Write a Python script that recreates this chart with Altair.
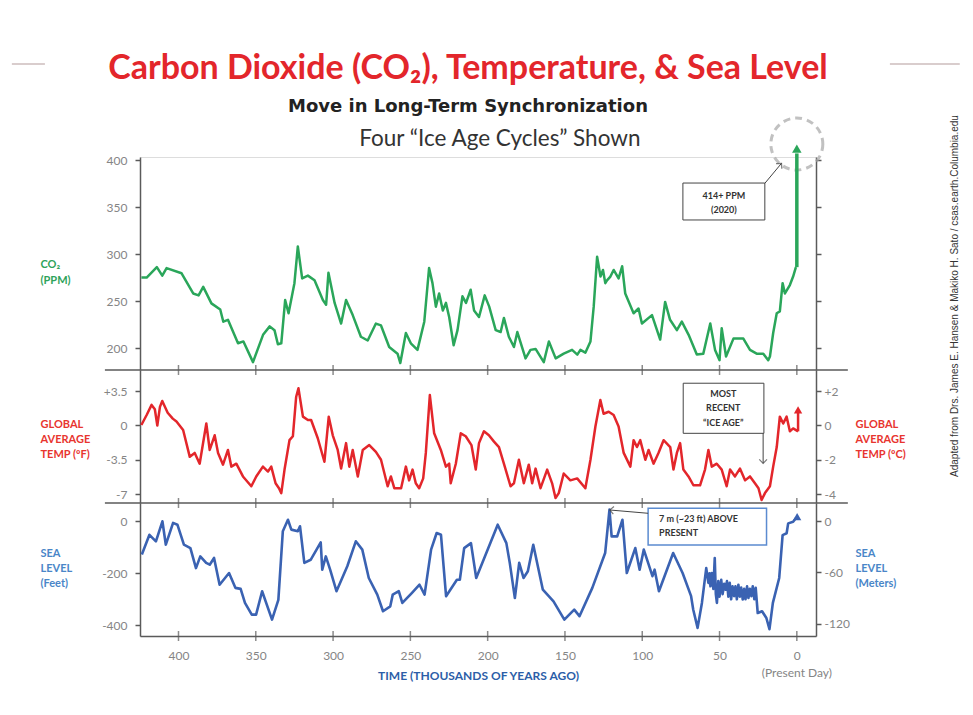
import altair as alt
import pandas as pd

# ---------------- data ----------------
co2_kyr = [424, 420.6, 414, 410.5, 407.7, 398, 390.5, 387, 384, 378.7,
           373, 371, 368, 361.5, 358, 351.8, 345.3, 341, 337.9, 335.7,
           333.5, 331, 328.8, 325, 322.8, 320, 316.3, 312, 306.6, 304.5,
           303, 299, 294.8, 291.6, 287.3, 282, 277.6, 272.3, 269, 263.7,
           258.3, 256.5, 252.9, 249.7, 245.4, 241, 237.9, 235.7, 233.5, 231.4,
           229, 227, 224.9, 222, 219.5, 216.3, 214, 211, 208.8, 205.6,
           201.9, 199, 194.8, 191.6, 189.5, 186.3, 183, 180.8, 175.5, 172.3,
           169, 163.7, 160.4, 156, 150.8, 145.4, 142, 140, 136.8, 133.5,
           131.4, 129.2, 127, 125.4, 123.9, 122.8, 120.6, 118.5, 115.3, 113,
           111, 105.6, 102.4, 100.2, 93.7, 88.4, 85.2, 82, 77.6, 74.4,
           70, 64.7, 60.5, 56, 52.9, 50, 48.6, 45.8, 41, 34.6,
           30.3, 26, 21.7, 18.5, 17.4, 15.3, 13, 11, 9.2, 7.7,
           4.5, 2.4, 0.6]
co2_ppm = [275, 275, 286, 277, 285, 279.5, 258, 256, 265, 247.5,
           241, 228, 230, 205, 207, 185, 214, 223, 219, 204,
           205, 251, 237, 269, 308, 274, 277, 272, 251, 246,
           280, 248, 226, 251, 235, 212, 208, 226, 224, 201,
           194, 184, 216, 205, 198, 228, 285, 269, 244, 258,
           240, 248, 233, 203, 219, 255, 248, 262, 240, 233,
           256, 244, 219, 217, 232, 212, 201, 217, 189, 198,
           199, 185, 207, 189, 194, 198, 193, 198, 195, 207,
           244, 297, 276, 283, 269, 272, 276, 283, 274, 287,
           258, 237, 242, 226, 235, 209, 249, 230, 219, 228,
           214, 193, 194, 226, 198, 187, 221, 191, 210, 210,
           198, 194, 194, 187, 191, 216, 237, 239, 269, 258,
           267, 276, 286]

temp_kyr = [424, 420.6, 417.4, 415.3, 413.7, 412, 410.5, 407, 403.7, 401.3,
            397, 392.7, 389.5, 386.3, 382, 379.8, 376.6, 374.4, 371.2, 368,
            365.8, 362.6, 358.3, 352.9, 349.7, 345.4, 342.1, 340, 337.2, 335,
            333.5, 331.4, 328.2, 326, 323.9, 322.4, 319.5, 316.3, 314.2, 309.9,
            305.6, 302.8, 300.2, 297, 294.8, 291.6, 289.5, 287.3, 284, 280.8,
            276.6, 272.3, 269, 264.7, 262.6, 260.4, 256, 252.9, 250.8, 248.6,
            246.5, 244.3, 241.7, 240, 237.4, 234.6, 230.3, 227, 224.9, 223.9,
            220.6, 217.4, 214.2, 210.5, 207.7, 205.6, 202.4, 199.2, 195.9, 192.7,
            189.5, 185.2, 183, 179.8, 176.6, 173.4, 171.2, 169, 165.8, 161.5,
            158.3, 156.1, 154, 150.8, 146.5, 142.1, 136.8, 133.5, 130.3, 127.1,
            125, 121.7, 118.5, 115.3, 112, 107.7, 105.6, 103.4, 101.3, 98,
            95.9, 92.7, 89.5, 86.2, 81.9, 79.8, 77.6, 75.5, 73.4, 70.1,
            66.9, 62.6, 59.4, 57.2, 55, 51.8, 48.6, 45.4, 43.2, 40,
            36.8, 33.5, 30.3, 27.1, 24.8, 22.8, 20.6, 17.4, 15.3, 13,
            11, 8.8, 6.6, 4.5, 2.4, -0.8]
temp_f = [0.05, 1.07, 2.1, 1.65, 0, 1.9, 2.5, 1.3, 0.7, 0.4,
          -0.46, -3.2, -2.8, -3.9, 0.2, -2.5, -1.0, -2.8, -4.0, -2.5,
          -4.2, -3.9, -5.2, -6.2, -5.2, -4.2, -4.7, -4.2, -5.9, -6.4,
          -6.9, -4.5, -1.5, -1.1, 2.9, 3.8, 0.9, 0.56, 0.56, -1.3,
          -3.7, 0.9, -1.0, -2.5, -4.4, -1.8, -4.2, -2.5, -5.2, -2.5,
          -2.0, -2.7, -3.5, -6.2, -5.2, -6.4, -6.4, -4.2, -5.6, -4.5,
          -5.9, -6.4, -5.4, -2.8, 3.1, -0.8, -2.5, -4.2, -3.9, -5.9,
          -3.9, -0.8, -1.1, -2.0, -4.5, -1.8, -0.6, -1.0, -1.65, -2.2,
          -3.9, -6.2, -5.9, -3.5, -5.9, -4.0, -5.9, -4.4, -6.4, -4.5,
          -5.9, -7.4, -6.9, -4.9, -5.6, -5.4, -6.4, -3.5, -0.1, 2.6,
          1.2, 1.4, 1.07, -0.1, -2.8, -4.2, -1.5, -2.2, -1.5, -3.5,
          -2.5, -3.9, -2.8, -1.5, -2.2, -4.5, -2.8, -1.8, -4.5, -5.2,
          -6.1, -6.1, -4.5, -2.5, -4.2, -3.9, -4.5, -6.2, -4.5, -5.2,
          -4.4, -5.6, -5.2, -5.9, -6.4, -7.6, -6.9, -6.2, -4.2, -2.2,
          0.9, 0.2, 0.9, -0.6, -0.3, -0.6]

sea_kyr = [423.7, 418.8, 414.6, 410.4, 408.2, 403.5, 400.7, 396.5, 392.3, 388.7,
           385.9, 382.1, 379.8, 377, 373.4, 367.3, 363.2, 359.8, 357, 352.6,
           349.8, 345.9, 339.5, 335.4, 332.5, 329.2, 327, 322.8, 321.4, 318.6,
           314.5, 308, 307, 304.7, 301.9, 297.8, 290.8, 285.3, 281.1, 276.9,
           271.4, 267.7, 263, 261.4, 257.5, 255.2, 249.1, 244.1, 240.8, 236.6,
           233, 230.2, 226.9, 219.9, 218, 215.2, 210.8, 207.4, 193.5, 187.9,
           185.7, 182.4, 179.6, 176.8, 174, 170.5, 164.3, 157.4, 150.4, 144,
           140.6, 132.3, 124, 121.2, 119.8, 116.2, 112.8, 110, 104.5, 101.7,
           99, 93.4, 92, 89.2, 80, 73.9, 68.4, 67, 64.2, 61.4,
           58.6, 57.2, 56.5, 55.9, 55, 54, 53.1, 52.4, 51.7, 50.8,
           50, 48.9, 48, 47, 46.1, 45.2, 44.3, 43.4, 42.5, 41.6,
           40.6, 39.7, 38.8, 37.8, 36.9, 36, 35, 34.1, 33.2, 32.2,
           31.3, 30.4, 29.4, 28.5, 27.5, 26.6, 25.3, 22.5, 19.7, 17.7,
           15.5, 11.4, 9.2, 6.6, 5.6, 2.4, 0.6]
sea_ft = [-128, -52, -77, 0, -90, -6, -13, -90, -103, -180,
          -135, -160, -167, -141, -244, -199, -256, -260, -314, -359,
          -359, -269, -378, -302, -38, 6, -32, -38, -19, -160,
          -148, -81, -186, -135, -186, -269, -173, -77, -109, -218,
          -282, -346, -327, -282, -269, -314, -276, -244, -282, -109,
          -45, -52, -288, -225, -225, -103, -84, -218, -13, -84,
          -160, -295, -160, -218, -192, -90, -263, -308, -378, -340,
          -365, -256, -122, 45, -58, -58, 6, -199, -103, -186,
          -109, -211, -186, -269, -122, -199, -288, -340, -410, -314,
          -180, -237, -200, -250, -199, -260, -141, -280, -314, -230,
          -290, -225, -280, -240, -263, -230, -290, -237, -300, -250,
          -288, -250, -300, -244, -290, -255, -301, -260, -300, -250,
          -295, -260, -288, -250, -300, -256, -353, -346, -372, -415,
          -314, -218, -53, -46, -8, -2, 12]

x_ticks = [400, 350, 300, 250, 200, 150, 100, 50, 0]
co2_ticks = [200, 250, 300, 350, 400]
tempf_ticks = [3.5, 0, -3.5, -7]
tempc_ticks = [2, 0, -2, -4]
seaft_ticks = [0, -200, -400]
seam_ticks = [0, -60, -120]

# ---------------- styling ----------------
FONT = "Lato, 'Open Sans', sans-serif"
GREEN = "#2aa65a"
GREEN_L = "#2ea35a"
RED = "#e3262b"
RED_L = "#e8352f"
BLUE = "#3a62b2"
BLUE_L = "#4a86c8"
GRAY = "#858585"
AXC = "#5a5a5a"
DARK = "#333333"

X_DOM = [424.9, -12.4]
CO2_DOM = [176.6, 403.2]
CO2_RNG = [213, 0]
TF_DOM = [-7.91, 5.66]
T_RNG = [346, 213]
TC_DOM = [v / 1.75 for v in TF_DOM]
SF_DOM = [-441.2, 70.4]
S_RNG = [479, 346]
SM_DOM = [v * 0.3048 for v in SF_DOM]


def ysc(dom, rng):
    return alt.Scale(domain=dom, range=rng, nice=False, zero=False)


x_scale = alt.Scale(domain=X_DOM, nice=False, zero=False)
x_axis = alt.Axis(values=x_ticks, title="TIME (THOUSANDS OF YEARS AGO)", ticks=False,
                  labelPadding=14, labelColor=GRAY, labelFont=FONT, labelFontSize=12,
                  domainColor=AXC, domainWidth=1.5, grid=False,
                  titleColor="#2c5ea8", titleFont=FONT, titleFontSize=12,
                  titleFontWeight="bold", titlePadding=9)


def X(field):
    return alt.X(f"{field}:Q", scale=x_scale, axis=x_axis)


PLUS = "datum.value > 0 ? '+' + datum.value : '' + datum.value"


def yaxis(orient, values, title="", tcolor=DARK, title_y=0, labels=True,
          expr="'' + datum.value", lh=15):
    props = dict(orient=orient, values=values, grid=False, ticks=True, tickSize=5,
                 tickWidth=1.5, tickColor=AXC, domainColor=AXC, domainWidth=1.5,
                 labels=labels, labelColor=GRAY, labelFont=FONT, labelFontSize=12,
                 labelPadding=3 if orient == "right" else 8, labelExpr=expr, title=title)
    if title:
        props.update(titleAngle=0, titleAlign="left", titleBaseline="top",
                     titleX=-100 if orient == "left" else 39, titleY=title_y,
                     titleColor=tcolor, titleFont=FONT, titleFontSize=11,
                     titleFontWeight="bold", titleLineHeight=lh)
    return alt.Axis(**props)


def Yc(f):
    return alt.Y(f"{f}:Q", scale=ysc(CO2_DOM, CO2_RNG), axis=None)


def Yt(f):
    return alt.Y(f"{f}:Q", scale=ysc(TF_DOM, T_RNG), axis=None)


def Ys(f):
    return alt.Y(f"{f}:Q", scale=ysc(SF_DOM, S_RNG), axis=None)


co2_df = pd.DataFrame({"kyr": co2_kyr, "ppm": co2_ppm})
temp_df = pd.DataFrame({"kyr": temp_kyr, "tf": temp_f})
sea_df = pd.DataFrame({"kyr": sea_kyr, "ft": sea_ft})

L = []

# panel separators and x ticks
for yv, Yf in [(TF_DOM[1], Yt), (SF_DOM[1], Ys)]:
    L.append(alt.Chart(pd.DataFrame({"kyr": [447.6], "kyr2": [-33.0], "v": [yv]}))
             .mark_rule(color=AXC, strokeWidth=1.5)
             .encode(x=X("kyr"), x2=alt.X2("kyr2"), y=Yf("v")))
for yv, Yf in [(TF_DOM[1], Yt), (SF_DOM[1], Ys), (SF_DOM[0], Ys)]:
    L.append(alt.Chart(pd.DataFrame({"t": x_ticks, "v": [yv] * len(x_ticks)}))
             .mark_tick(orient="vertical", size=10, thickness=1.5, color=AXC)
             .encode(x=X("t"), y=Yf("v")))

# CO2 panel
L.append(alt.Chart(co2_df).mark_line(color=GREEN, strokeWidth=2.5, strokeJoin="round").encode(
    x=X("kyr"),
    y=alt.Y("ppm:Q", scale=ysc(CO2_DOM, CO2_RNG),
            axis=yaxis("left", co2_ticks, ["CO₂", "(PPM)"], GREEN_L, 101, lh=16))))
L.append(alt.Chart(pd.DataFrame({"kyr": [0] * 5, "v": co2_ticks})).mark_point(opacity=0).encode(
    x=X("kyr"),
    y=alt.Y("v:Q", scale=ysc(CO2_DOM, CO2_RNG), axis=yaxis("right", co2_ticks, labels=False))))

# temperature panel
L.append(alt.Chart(temp_df).mark_line(color=RED, strokeWidth=2.5, strokeJoin="round").encode(
    x=X("kyr"),
    y=alt.Y("tf:Q", scale=ysc(TF_DOM, T_RNG),
            axis=yaxis("left", tempf_ticks, ["GLOBAL", "AVERAGE", "TEMP (ºF)"], RED_L, 261,
                       expr=PLUS))))
L.append(alt.Chart(pd.DataFrame({"kyr": [0] * 4, "v": tempc_ticks})).mark_point(opacity=0).encode(
    x=X("kyr"),
    y=alt.Y("v:Q", scale=ysc(TC_DOM, T_RNG),
            axis=yaxis("right", tempc_ticks, ["GLOBAL", "AVERAGE", "TEMP (ºC)"], RED_L, 261,
                       expr=PLUS))))

# sea-level panel
L.append(alt.Chart(sea_df).mark_line(color=BLUE, strokeWidth=2.6, strokeJoin="round").encode(
    x=X("kyr"),
    y=alt.Y("ft:Q", scale=ysc(SF_DOM, S_RNG),
            axis=yaxis("left", seaft_ticks, ["SEA", "LEVEL", "(Feet)"], BLUE_L, 390))))
L.append(alt.Chart(pd.DataFrame({"kyr": [0] * 3, "v": seam_ticks})).mark_point(opacity=0).encode(
    x=X("kyr"),
    y=alt.Y("v:Q", scale=ysc(SM_DOM, S_RNG),
            axis=yaxis("right", seam_ticks, ["SEA", "LEVEL", "(Meters)"], BLUE_L, 390))))

# ---- annotations ----
# dashed circle and green arrow to 414 ppm
L.append(alt.Chart(pd.DataFrame({"kyr": [0.0], "v": [417.0]}))
         .mark_point(shape="circle", size=2704, filled=False, strokeWidth=3,
                     strokeDash=[7, 5], color="#a8a8a8")
         .encode(x=X("kyr"), y=Yc("v")))
L.append(alt.Chart(pd.DataFrame({"kyr": [0.0], "kyr2": [0.0], "v": [286.0], "v2": [407.0]}))
         .mark_rule(color=GREEN, strokeWidth=3.5)
         .encode(x=X("kyr"), x2=alt.X2("kyr2"), y=Yc("v"), y2=alt.Y2("v2")))
L.append(alt.Chart(pd.DataFrame({"kyr": [0.0], "v": [412.0]}))
         .mark_point(shape="triangle-up", size=90, filled=True, opacity=1, color=GREEN)
         .encode(x=X("kyr"), y=Yc("v")))
# 414+ PPM box
L.append(alt.Chart(pd.DataFrame({"kyr": [73.7], "kyr2": [20.7], "v": [375.5], "v2": [336.2]}))
         .mark_rect(fill="white", stroke="#444444", strokeWidth=1)
         .encode(x=X("kyr"), x2=alt.X2("kyr2"), y=Yc("v"), y2=alt.Y2("v2")))
L.append(alt.Chart(pd.DataFrame({"kyr": [47.2, 47.2], "v": [361.7, 346.8],
                                 "label": ["414+ PPM", "(2020)"]}))
         .mark_text(font=FONT, fontSize=9, fontWeight="bold", color=DARK, baseline="middle")
         .encode(x=X("kyr"), y=Yc("v"), text="label:N"))
L.append(alt.Chart(pd.DataFrame({"kyr": [20.7], "kyr2": [9.9], "v": [375.2], "v2": [396.5]}))
         .mark_rule(color="#444444", strokeWidth=1)
         .encode(x=X("kyr"), x2=alt.X2("kyr2"), y=Yc("v"), y2=alt.Y2("v2")))
L.append(alt.Chart(pd.DataFrame({"kyr": [9.9], "v": [396.5]}))
         .mark_point(shape="M-1,-1L0,0L-1,1", angle=312, size=60, filled=False,
                     strokeWidth=1.2, color="#444444")
         .encode(x=X("kyr"), y=Yc("v")))

# most recent ice age box
L.append(alt.Chart(pd.DataFrame({"kyr": [73.5], "kyr2": [21.3], "v": [4.31], "v2": [-0.80]}))
         .mark_rect(fill="white", stroke="#444444", strokeWidth=1)
         .encode(x=X("kyr"), x2=alt.X2("kyr2"), y=Yt("v"), y2=alt.Y2("v2")))
L.append(alt.Chart(pd.DataFrame({"kyr": [47.6] * 3, "v": [3.18, 1.76, 0.29],
                                 "label": ["MOST", "RECENT", "“ICE AGE”"]}))
         .mark_text(font=FONT, fontSize=9, fontWeight="bold", color=DARK, baseline="middle")
         .encode(x=X("kyr"), y=Yt("v"), text="label:N"))
L.append(alt.Chart(pd.DataFrame({"kyr": [21.8], "kyr2": [21.8], "v": [-0.80], "v2": [-3.86]}))
         .mark_rule(color="#444444", strokeWidth=1)
         .encode(x=X("kyr"), x2=alt.X2("kyr2"), y=Yt("v"), y2=alt.Y2("v2")))
L.append(alt.Chart(pd.DataFrame({"kyr": [21.8], "v": [-3.86]}))
         .mark_point(shape="M-1,-1L0,0L-1,1", angle=90, size=60, filled=False,
                     strokeWidth=1.2, color="#444444")
         .encode(x=X("kyr"), y=Yt("v")))
# red arrow at present
L.append(alt.Chart(pd.DataFrame({"kyr": [-0.8], "kyr2": [-0.8], "v": [-0.6], "v2": [1.3]}))
         .mark_rule(color=RED, strokeWidth=2.5)
         .encode(x=X("kyr"), x2=alt.X2("kyr2"), y=Yt("v"), y2=alt.Y2("v2")))
L.append(alt.Chart(pd.DataFrame({"kyr": [-0.8], "v": [1.6]}))
         .mark_point(shape="triangle-up", size=70, filled=True, opacity=1, color=RED)
         .encode(x=X("kyr"), y=Yt("v")))

# sea-level box
L.append(alt.Chart(pd.DataFrame({"kyr": [96.2], "kyr2": [19.6], "v": [50.0], "v2": [-91.2]}))
         .mark_rect(fill="white", stroke="#5b8bd0", strokeWidth=1.5)
         .encode(x=X("kyr"), x2=alt.X2("kyr2"), y=Ys("v"), y2=alt.Y2("v2")))
L.append(alt.Chart(pd.DataFrame({"kyr": [89.1, 89.1], "v": [7.7, -46.2],
                                 "label": ["7 m  (~23 ft) ABOVE", "PRESENT"]}))
         .mark_text(font=FONT, fontSize=9, fontWeight="bold", color=DARK, align="left",
                    baseline="middle")
         .encode(x=X("kyr"), y=Ys("v"), text="label:N"))
L.append(alt.Chart(pd.DataFrame({"kyr": [96.2], "kyr2": [121.0], "v": [30.8], "v2": [43.5]}))
         .mark_rule(color="#444444", strokeWidth=1)
         .encode(x=X("kyr"), x2=alt.X2("kyr2"), y=Ys("v"), y2=alt.Y2("v2")))
L.append(alt.Chart(pd.DataFrame({"kyr": [121.0], "v": [43.5]}))
         .mark_point(shape="M-1,-1L0,0L-1,1", angle=185, size=60, filled=False,
                     strokeWidth=1.2, color="#444444")
         .encode(x=X("kyr"), y=Ys("v")))
L.append(alt.Chart(pd.DataFrame({"kyr": [-0.2], "v": [17.7]}))
         .mark_point(shape="triangle-up", size=70, filled=True, opacity=1, color=BLUE)
         .encode(x=X("kyr"), y=Ys("v")))

# (Present Day)
L.append(alt.Chart(pd.DataFrame({"kyr": [0.0], "v": [-583.5], "label": ["(Present Day)"]}))
         .mark_text(font=FONT, fontSize=12, color=GRAY, baseline="middle")
         .encode(x=X("kyr"), y=Ys("v"), text="label:N"))

# third heading line
L.append(alt.Chart(pd.DataFrame({"kyr": [192.1], "v": [422.3],
                                 "label": ["Four “Ice Age Cycles” Shown"]}))
         .mark_text(font=FONT, fontSize=22.5, color=DARK, baseline="middle")
         .encode(x=X("kyr"), y=Yc("v"), text="label:N"))

# credit, vertical
L.append(alt.Chart(pd.DataFrame({"kyr": [-102.2], "v": [255.3],
                                 "label": ["Adapted from Drs. James E. Hansen & Makiko H. Sato / csas.earth.Columbia.edu"]}))
         .mark_text(font="'Liberation Sans', Arial, sans-serif", fontSize=10, color=DARK,
                    angle=270, baseline="middle")
         .encode(x=X("kyr"), y=Yc("v"), text="label:N"))

# decorative slide rules beside the title
L.append(alt.Chart(pd.DataFrame({"kyr": [507.8, -60.2], "kyr2": [486.4, -105.4],
                                 "v": [502.1, 502.1]}))
         .mark_rule(color="#cdbdbd", strokeWidth=1.5)
         .encode(x=X("kyr"), x2=alt.X2("kyr2"), y=Yc("v")))

chart = (
    alt.layer(*L)
    .resolve_scale(y="independent")
    .properties(
        width=676, height=479,
        autosize=alt.AutoSizeParams(type="none"),
        padding={"left": 132, "top": 149, "right": 147, "bottom": 60},
        title=alt.TitleParams(
            text="Carbon Dioxide (CO₂), Temperature, & Sea Level",
            subtitle="Move in Long-Term Synchronization",
            color=RED, font=FONT, fontSize=34, fontWeight="bold",
            subtitleColor="#222222", subtitleFont="'DejaVu Sans', sans-serif",
            subtitleFontSize=18, subtitleFontWeight="bold", subtitlePadding=12,
            anchor="middle", frame="group", dx=-10, offset=-53,
        ),
    )
    .configure_view(strokeWidth=0)
    .configure(background="white")
)

chart.save("out.html", embed_options={"renderer": "svg", "actions": False})
